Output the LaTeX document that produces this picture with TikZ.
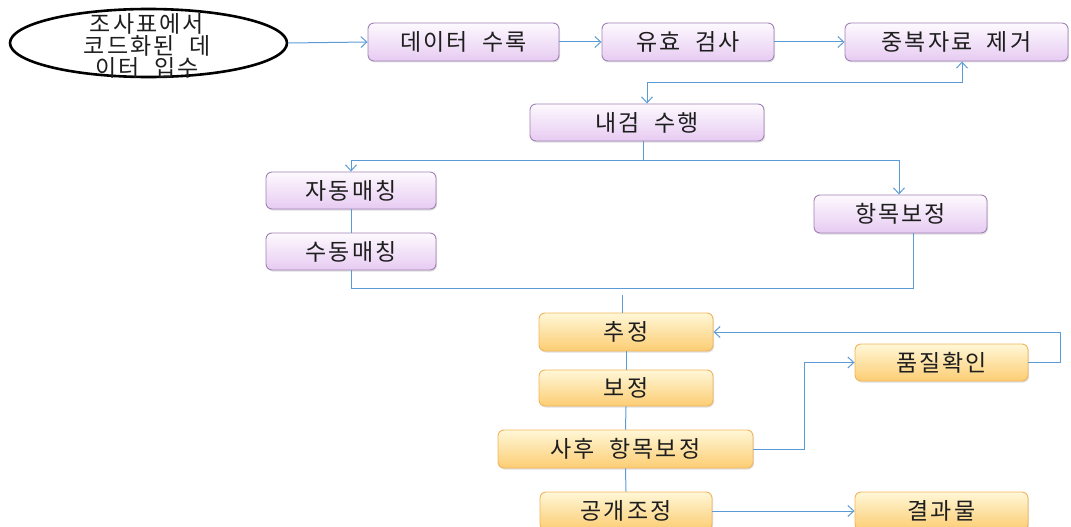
\documentclass[tikz,border=0pt]{standalone}
\usepackage{fontspec}
\setmainfont[LetterSpace=9,WordSpace=2]{Noto Sans CJK KR}
\usetikzlibrary{arrows.meta,shapes.geometric,shadows}
\definecolor{conn}{RGB}{91,155,213}
\definecolor{pborder}{RGB}{160,130,180}
\definecolor{ptop}{RGB}{253,249,254}
\definecolor{pbot}{RGB}{231,203,242}
\definecolor{oborder}{RGB}{242,180,90}
\definecolor{otop}{RGB}{255,247,215}
\definecolor{obot}{RGB}{252,205,115}
\definecolor{txt}{RGB}{30,30,30}
\tikzset{
  base/.style={rounded corners=6pt, inner sep=0pt, text=txt, line width=0.9pt,
    font=\fontsize{23}{24}\selectfont,
    drop shadow={opacity=0.25, shadow xshift=1pt, shadow yshift=-1.5pt}},
  pbox/.style={base, draw=pborder, top color=ptop, bottom color=pbot},
  obox/.style={base, draw=oborder, top color=otop, bottom color=obot},
  link/.style={draw=conn, line width=1pt},
  arr/.style={link, -{Straight Barb[length=6pt,width=11pt]}},
  darr/.style={link, {Straight Barb[length=6pt,width=11pt]}-{Straight Barb[length=6pt,width=11pt]}}
}
\begin{document}
\begin{tikzpicture}[x=1pt,y=-1pt]
\useasboundingbox (0,0) rectangle (1071,527);
% source ellipse
\node[draw=black, line width=2.6pt, ellipse, minimum width=277pt, minimum height=68pt, inner sep=0pt] (src) at (148.5,43) {};
\node[align=center, text=txt, font=\fontsize{23}{22}\selectfont, inner sep=0pt] (srct) at (147,46) {조사표에서\\코드화된 데\\이터 입수};
% top row
\node[pbox, minimum width=191pt, minimum height=38pt] (d1) at (463.5,42) {데이터 수록};
\node[pbox, minimum width=172pt, minimum height=38pt] (d2) at (688,42) {유효 검사};
\node[pbox, minimum width=223pt, minimum height=38pt] (d3) at (956.5,42) {중복자료 제거};
\node[pbox, minimum width=234pt, minimum height=37pt] (n4) at (647,122.5) {내검 수행};
\node[pbox, minimum width=170pt, minimum height=37pt] (a1) at (351,190.5) {자동매칭};
\node[pbox, minimum width=170pt, minimum height=37pt] (a2) at (351,251.5) {수동매칭};
\node[pbox, minimum width=173pt, minimum height=38pt] (h1) at (900.5,214) {항목보정};
% orange
\node[obox, minimum width=174pt, minimum height=38pt] (e1) at (626,332) {추정};
\node[obox, minimum width=174pt, minimum height=36pt] (e2) at (626,388) {보정};
\node[obox, minimum width=255pt, minimum height=38pt] (e3) at (625.5,449) {사후 항목보정};
\node[obox, minimum width=172pt, minimum height=38pt] (e4) at (626,511) {공개조정};
\node[obox, minimum width=173pt, minimum height=37pt] (q) at (941.5,362.5) {품질확인};
\node[obox, minimum width=173pt, minimum height=38pt] (r) at (941.5,511) {결과물};
% connectors
\draw[arr] (src.east) -- (d1.west);
\draw[arr] (d1.east) -- (d2.west);
\draw[arr] (d2.east) -- (d3.west);
\draw[darr] ([xshift=5.5pt]d3.south) -- ++(0,21) -| (n4.north);
\draw[link] ([xshift=-4pt]n4.south) -- ++(0,19) coordinate (br);
\draw[arr] (br) -| (a1.north);
\draw[arr] (br) -| ([xshift=-1.5pt]h1.north);
\draw[link] (a1.south) -- (a2.north);
\draw[link] (a2.south) -- ++(0,18) -| ([xshift=12.5pt]h1.south);
\coordinate (stub) at (622,295);
\draw[link] (stub) -- (stub |- e1.north);
\draw[link] (e1.south) -- (e2.north);
\draw[link] (e2.south) -- (e3.north);
\draw[link] (e3.south) -- (e4.north);
\draw[arr] (e3.east) -- ++(51,0) |- (q.west);
\draw[arr] (q.east) -- ++(32,0) |- (e1.east);
\draw[arr] (e4.east) -- (r.west);
\end{tikzpicture}
\end{document}
